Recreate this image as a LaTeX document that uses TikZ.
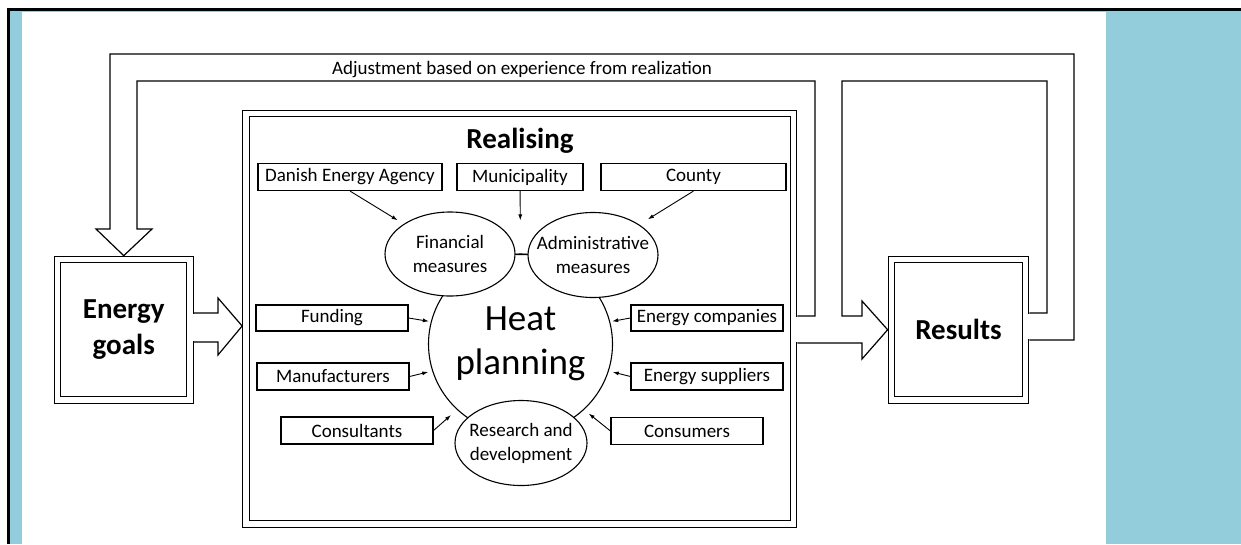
\documentclass[tikz,border=0pt]{standalone}
\usepackage{fontspec}
\setmainfont{Carlito}
\usetikzlibrary{calc,shapes.geometric,arrows.meta}

\definecolor{panelblue}{RGB}{147,205,219}

\tikzset{
  lbl/.style={draw, line width=1.1pt, minimum height=27pt, inner sep=1pt, font=\fontsize{19}{22}\selectfont},
  oval/.style={draw, ellipse, line width=1.1pt, fill=white, inner sep=0pt},
  ovaltext/.style={align=center, font=\fontsize{19}{24}\selectfont},
  dbox/.style={draw, double, double distance=5.3pt, line width=1.2pt, inner sep=0pt, align=center, font=\fontsize{29}{36}\selectfont\bfseries},
  ptr/.style={-{Latex[length=6pt,width=4pt]}, line width=0.9pt, shorten >=2pt},
  fat/.style={line width=1.2pt, line join=miter},
}

\begin{document}
\begin{tikzpicture}[x=1pt,y=-1pt]
\useasboundingbox (0,0) rectangle (1241,544);

% page frame
\fill[white] (0,0) rectangle (1241,544);
\fill[panelblue] (9.5,10.5) rectangle (22,544);
\fill[panelblue] (9.5,10.5) rectangle (1241,12);
\fill[panelblue] (1106,10.5) rectangle (1241,544);
\fill (7,8) rectangle (1241,10.5);
\fill (7,8) rectangle (9.5,544);

% main blocks
\node[dbox, minimum width=132.5pt, minimum height=140.5pt] (eg) at (123.75,329.75) {Energy\\goals};
\node[dbox, minimum width=547.5pt, minimum height=410.5pt] (real) at (519.75,318.75) {};
\node[dbox, minimum width=134pt, minimum height=140.5pt] (res) at (958.5,329.75) {Results};

\node[anchor=base, font=\fontsize{29}{34}\selectfont\bfseries] (rtitle) at (520,148) {Realising};
\node[anchor=base, font=\fontsize{19}{22}\selectfont] (adj) at (522,74) {Adjustment based on experience from realization};

% heat planning and the three measures
\node[draw, ellipse, line width=1.1pt, minimum width=184pt, minimum height=180pt, inner sep=0pt, align=center,
      font=\fontsize{37}{44}\selectfont] (heat) at (520.5,344) {Heat\\planning};

\node[oval, minimum width=130pt, minimum height=84pt,
      label={[ovaltext]center:Financial\\measures}] (fin) at (450,254) {};
\node[oval, minimum width=130pt, minimum height=85pt,
      label={[ovaltext]center:Administrative\\measures}] (adm) at (593,255) {};
\node[oval, minimum width=132pt, minimum height=85pt,
      label={[ovaltext]center:Research and\\development}] (rd) at (521,443) {};
\draw[line width=1.1pt] (fin) -- (adm);

% actors
\node[lbl, minimum width=184pt] (dea) at (350,177) {Danish Energy Agency};
\node[lbl, minimum width=126pt] (mun) at (520,177) {Municipality};
\node[lbl, minimum width=185pt] (cty) at (693.5,177) {County};
\node[lbl, minimum width=152pt, minimum height=26pt] (fund) at (332,318) {Funding};
\node[lbl, minimum width=152pt] (manu) at (333,376.5) {Manufacturers};
\node[lbl, minimum width=152pt] (cons) at (357,430.5) {Consultants};
\node[lbl, minimum width=152pt, minimum height=26pt] (ecomp) at (707,318) {Energy companies};
\node[lbl, minimum width=152pt] (esup) at (707,376.5) {Energy suppliers};
\node[lbl, minimum width=152pt] (cmr) at (687,431) {Consumers};

\draw[ptr, shorten >=7pt] (dea.south) -- (fin.north west);
\draw[ptr, shorten >=33pt] (mun) -- (heat.north);
\draw[ptr, shorten >=10pt] (cty.south) -- (adm.north east);
\draw[ptr] (fund.east) -- (heat.166);
\draw[ptr, shorten >=4pt] (manu.east) -- (heat.197);
\draw[ptr, shorten >=8pt] (cons.east) -- (heat.226);
\draw[ptr] (ecomp.west) -- (heat.14);
\draw[ptr, shorten >=4pt] (esup.west) -- (heat.-17);
\draw[ptr, shorten >=6pt] (cmr.west) -- (heat.-46);

% block arrows
\fill[white] ($(eg.east)+(1,-16.1)$) rectangle ($(eg.east)+(6,11.6)$);
\draw[fat] ($(eg.east)+(3.25,-16.75)$) -- (218,313) -- (218,298)
  -- ($(real.west)+(-3.25,7.25)$) -- (218,355) -- (218,342) -- ($(eg.east)+(3.25,12.25)$);

\fill[white] ($(real.east)+(1,-2.1)$) rectangle ($(real.east)+(6,23.6)$);
\fill[white] ($(res.east)+(1,-16.1)$) rectangle ($(res.east)+(6,9.6)$);

% feedback loop
\draw[fat] ($(res.east)+(3.25,10.25)$) -- (1074,340) -- (1074,54) -- (110,54) -- (110,229)
  -- (96,229) -- ($(eg.north)+(0,-3.25)$) -- (152,229) -- (137,229) -- (137,81)
  -- (815,81) -- (815,316) -- ($(real.east)+(3.25,-2.75)$);
\draw[fat] ($(real.east)+(3.25,24.25)$) -- (862,343) -- (862,359)
  -- ($(res.west)+(-3.25,0)$) -- (862,301) -- (862,316) -- (842,316) -- (842,81)
  -- (1047,81) -- (1047,313) -- ($(res.east)+(3.25,-16.75)$);
\end{tikzpicture}
\end{document}
